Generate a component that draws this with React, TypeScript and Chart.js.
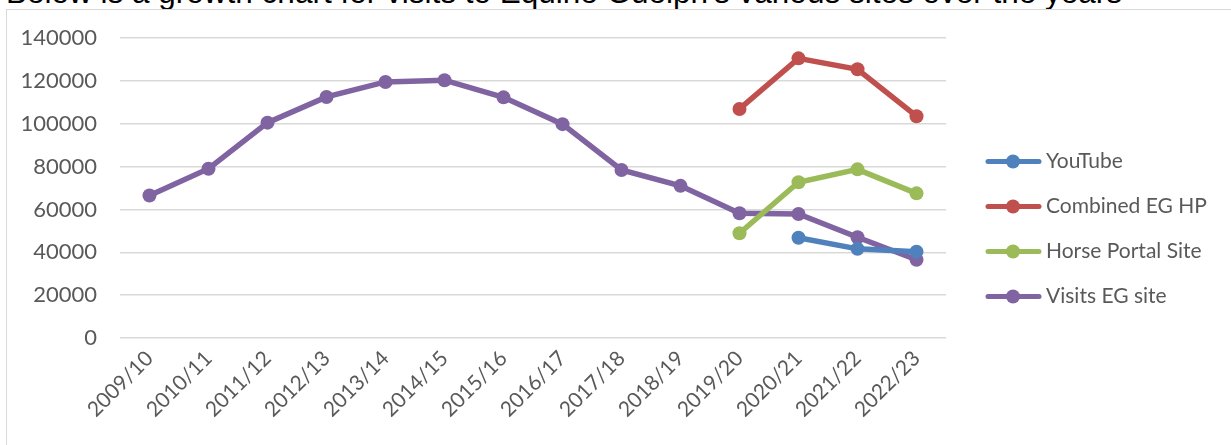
import React, { useEffect, useRef } from "react";
import { Chart, registerables } from "chart.js";

Chart.register(...registerables);

const categories = [
  "2009/10", "2010/11", "2011/12", "2012/13", "2013/14", "2014/15", "2015/16",
  "2016/17", "2017/18", "2018/19", "2019/20", "2020/21", "2021/22", "2022/23",
];

const youTube = [null, null, null, null, null, null, null, null, null, null, null, 46800, 41600, 40300];
const combinedEGHP = [null, null, null, null, null, null, null, null, null, null, 106900, 130500, 125400, 103500];
const horsePortal = [null, null, null, null, null, null, null, null, null, null, 48900, 72700, 78700, 67500];
const visitsEG = [66500, 79000, 100500, 112500, 119500, 120300, 112300, 99800, 78400, 71000, 58200, 57900, 47000, 36500];

const yTicks = [0, 20000, 40000, 60000, 80000, 100000, 120000, 140000];

const seriesNames = ["YouTube", "Combined EG HP", "Horse Portal Site", "Visits EG site"];
const seriesColors = ["#4F81BD", "#C0504D", "#9BBB59", "#8064A2"];
const seriesData = [youTube, combinedEGHP, horsePortal, visitsEG];

const FONT = "Lato, 'Open Sans', sans-serif";
const TEXT = "#595959";

const legendPlugin = {
  id: "sideLegend",
  afterDraw(chart: any) {
    const ctx = chart.ctx;
    ctx.save();
    chart.data.datasets.forEach((ds: any, i: number) => {
      const y = 161.5 + i * 45;
      ctx.strokeStyle = ds.borderColor;
      ctx.lineWidth = 5;
      ctx.lineCap = "round";
      ctx.beginPath();
      ctx.moveTo(988, y);
      ctx.lineTo(1039, y);
      ctx.stroke();
      ctx.fillStyle = ds.borderColor;
      ctx.beginPath();
      ctx.arc(1013, y, 7, 0, Math.PI * 2);
      ctx.fill();
      ctx.fillStyle = TEXT;
      ctx.font = `21px ${FONT}`;
      ctx.textAlign = "left";
      ctx.textBaseline = "middle";
      ctx.fillText(ds.label, 1046, y);
    });
    ctx.restore();
  },
};

export default function App() {
  const ref = useRef<HTMLCanvasElement>(null);

  useEffect(() => {
    if (!ref.current) return;
    const chart = new Chart(ref.current, {
      type: "line",
      data: {
        labels: categories,
        datasets: seriesData.map((d, i) => ({
          label: seriesNames[i],
          data: d,
          borderColor: seriesColors[i],
          backgroundColor: seriesColors[i],
          borderWidth: 5.5,
          pointRadius: 7,
          pointHoverRadius: 7,
          pointBorderWidth: 0,
          tension: 0,
          spanGaps: false,
        })),
      },
      options: {
        animation: false,
        responsive: false,
        maintainAspectRatio: false,
        layout: { padding: { left: 0, top: 38, right: 285, bottom: 0 } },
        plugins: { legend: { display: false }, tooltip: { enabled: false } },
        scales: {
          x: {
            offset: true,
            grid: { display: false, drawTicks: false },
            border: { display: false },
            ticks: {
              minRotation: 45,
              maxRotation: 45,
              autoSkip: false,
              padding: 8,
              color: TEXT,
              font: { family: FONT, size: 21 },
            },
            afterFit(scale: any) {
              scale.height = 107;
            },
          },
          y: {
            min: 0,
            max: 140000,
            afterBuildTicks(scale: any) {
              scale.ticks = yTicks.map((v) => ({ value: v }));
            },
            grid: { color: "#D9D9D9", lineWidth: 1.5, drawTicks: false },
            border: { display: false },
            ticks: {
              padding: 23,
              color: TEXT,
              font: { family: FONT, size: 22 },
              callback: (v: any) => String(v),
            },
            afterFit(scale: any) {
              scale.width = 120;
            },
          },
        },
      },
      plugins: [legendPlugin],
    });
    return () => chart.destroy();
  }, []);

  return (
    <div
      style={{
        position: "fixed",
        left: 0,
        top: 0,
        width: 1231,
        height: 445,
        overflow: "hidden",
        background: "#fff",
      }}
    >
      <div
        style={{
          position: "absolute",
          left: 6,
          top: -23,
          fontFamily: "'Liberation Sans', Arial, sans-serif",
          fontSize: 31.5,
          lineHeight: "31.5px",
          color: "#000",
          whiteSpace: "nowrap",
        }}
      >
        Below is a growth chart for visits to Equine Guelph's various sites over the years
      </div>
      <div
        style={{
          position: "absolute",
          left: 6,
          top: 9,
          width: 1300,
          height: 500,
          border: "1.5px solid #D9D9D9",
        }}
      />
      <canvas ref={ref} width={1231} height={445} style={{ position: "absolute", left: 0, top: 0 }} />
    </div>
  );
}
